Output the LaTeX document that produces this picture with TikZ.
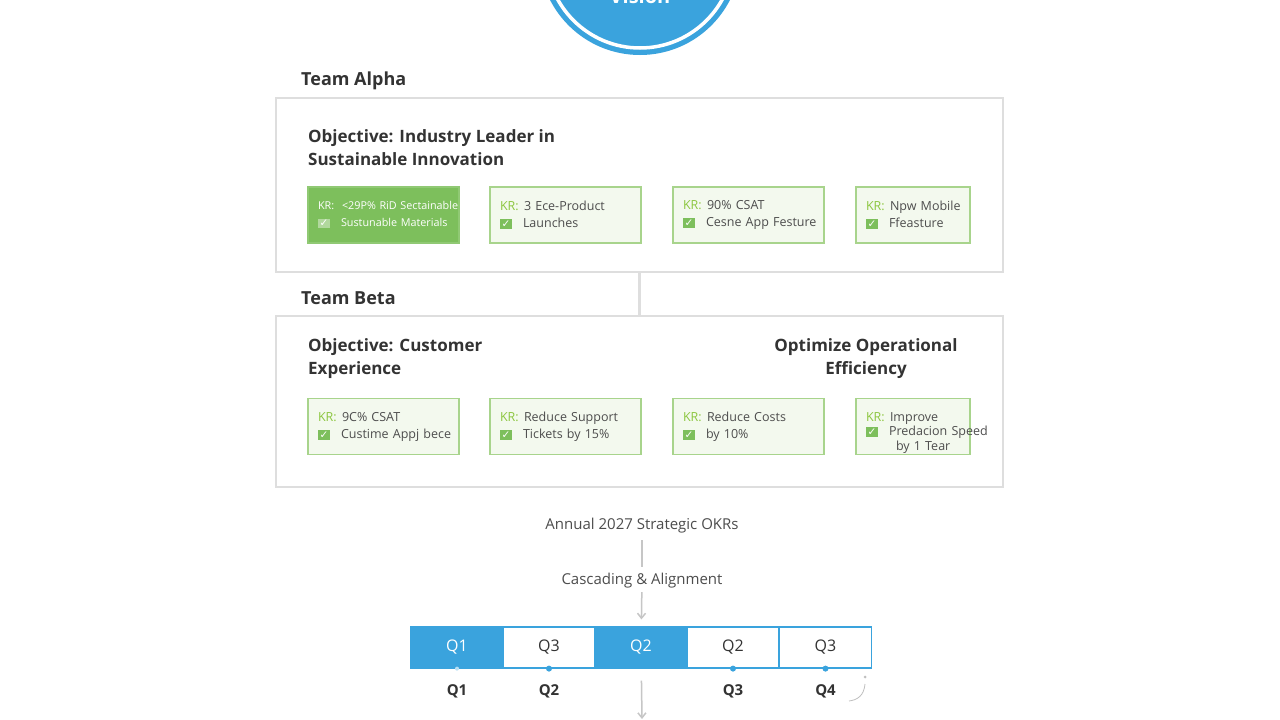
\documentclass[tikz,border=0pt]{standalone}
\usepackage{fontspec}
\setmainfont{Open Sans}
\newfontfamily\symfont{DejaVu Sans}
\usetikzlibrary{positioning,arrows.meta}

\definecolor{visblue}{HTML}{3AA3DD}
\definecolor{krgreen}{HTML}{8CC63F}
\definecolor{boxgreen}{HTML}{7DBF5C}
\definecolor{lightgreen}{HTML}{F3F9EE}
\definecolor{edgegreen}{HTML}{A8D48C}
\definecolor{panelgray}{HTML}{DEDEDE}
\definecolor{textgray}{HTML}{333333}
\definecolor{kgray}{HTML}{4D4D4D}
\colorlet{tagcol}{krgreen}
\colorlet{chkcol}{boxgreen}

\newcommand{\fs}[2]{\fontsize{#1}{#2}\selectfont}
\newcommand{\krtag}{\makebox[24pt][l]{\textcolor{tagcol}{KR:}}}
\newcommand{\krcheck}{\makebox[23pt][l]{\setlength{\fboxsep}{1.5pt}\colorbox{chkcol}{\textcolor{white}{\symfont\fs{10.5}{10}✓}}}}
\newcommand{\krtext}[2]{\krtag\mbox{#1}\\\krcheck\mbox{#2}}

\begin{document}
\begin{tikzpicture}[x=1pt,y=-1pt,
  panel/.style={draw=panelgray, line width=2pt, fill=white, minimum width=727pt, inner sep=0pt},
  team/.style={font=\bfseries\fs{18}{22}, text=textgray, anchor=west, inner sep=0pt},
  objective/.style={font=\bfseries\fs{17}{23}, text=textgray, align=left, anchor=west, inner sep=0pt},
  krbox/.style={draw=edgegreen, line width=1.2pt, fill=lightgreen, minimum height=56pt, text width=131pt,
    inner xsep=10pt, inner ysep=0pt, outer sep=0pt, align=left, font=\fs{12.5}{17}, text=kgray},
  krfull/.style={krbox, fill=boxgreen, draw=boxgreen!85!white, text=white, font=\fs{10.8}{17},
    execute at begin node={\colorlet{tagcol}{white}\colorlet{chkcol}{boxgreen!60!white}}},
  krnarrow/.style={krbox, text width=94pt},
  flow/.style={font=\fs{15}{18}, text=kgray},
  link/.style={draw=gray!45, line width=1.5pt},
  arrow/.style={-{Straight Barb[length=5pt,width=8pt]}},
  qcell/.style={draw=visblue, line width=1.2pt, minimum width=92pt, minimum height=41pt,
    font=\fs{16}{18}, text=textgray, inner sep=0pt},
  qfull/.style={qcell, fill=visblue, text=white},
  qlabel/.style={font=\bfseries\fs{15}{18}, text=textgray}]

\useasboundingbox (0,0) rectangle (1280,720);
\clip (0,0) rectangle (1280,720);
\fill [white] (0,0) rectangle (1280,720);

\node (Vision) [circle, fill=visblue, minimum size=202pt, inner sep=0pt] at (640,-46) {};
\draw [white, line width=3.5pt] (Vision.center) circle (94pt);
\node (VisionText) [font=\bfseries\fs{20}{20}, text=white, anchor=base] at (640,4) {Vision};

\node (TeamAlpha) [team] at (301,81) {Team Alpha};
\node (PanelAlpha) [panel, minimum height=174pt] at (639.5,185) {};
\node (TeamBeta) [team] at (301,298) {Team Beta};
\node (PanelBeta) [panel, minimum height=171pt] at (639.5,401.5) {};
\draw [link, draw=panelgray, line width=2.5pt] (PanelAlpha) -- (PanelBeta);

\node (ObjAlpha) [objective] at (308,147.5) {Objective: Industry Leader in\\Sustainable Innovation};
\node (ObjBeta) [objective] at (308,359) {Objective: Customer\\Experience};
\node (ObjOps) [objective, align=center, anchor=center] at (866,359) {Optimize Operational\\Efficiency};

\node (KRa1) [krfull] at (383.5,215) {\krtext{<29P\% RiD Sectainable}{Sustunable Materials}};
\node (KRa2) [krbox, right=31pt of KRa1] {\krtext{3 Ece-Product}{Launches}};
\node (KRa3) [krbox, right=32pt of KRa2] {\krtext{90\% CSAT}{Cesne App Festure}};
\node (KRa4) [krnarrow, right=32pt of KRa3] {\krtext{Npw Mobile}{Ffeasture}};

\node (KRb1) [krbox] at (383.5,426.5) {\krtext{9C\% CSAT}{Custime Appj bece}};
\node (KRb2) [krbox, right=31pt of KRb1] {\krtext{Reduce Support}{Tickets by 15\%}};
\node (KRb3) [krbox, right=32pt of KRb2] {\krtext{Reduce Costs}{by 10\%}};
\node (KRb4) [krnarrow, font=\fs{12.5}{14.5}] [right=32pt of KRb3]
  {\rule{0pt}{21pt}\krtag Improve\\\krcheck\mbox{Predacion Speed}\\\hspace*{30pt}by 1 Tear};

\node (Annual) [flow] at (642,526) {Annual 2027 Strategic OKRs};
\node (Cascade) [flow, node distance=55pt, below of=Annual] {Cascading \& Alignment};

\node (Q1) [qfull] at (457,647.5) {Q1};
\node (Q3a) [qcell, node distance=92pt, right of=Q1] {Q3};
\node (Q2a) [qfull, node distance=92pt, right of=Q3a] {Q2};
\node (Q2b) [qcell, node distance=92pt, right of=Q2a] {Q2};
\node (Q3b) [qcell, node distance=92.5pt, right of=Q2b] {Q3};

\node (LQ1) [qlabel, node distance=43.5pt, below of=Q1] {Q1};
\node (LQ2) [qlabel, node distance=43.5pt, below of=Q3a] {Q2};
\node (LQ3) [qlabel, node distance=43.5pt, below of=Q2b] {Q3};
\node (LQ4) [qlabel, node distance=43.5pt, below of=Q3b] {Q4};

\fill [visblue!35] (Q1.south) circle (2pt);
\fill [visblue] (Q3a.south) circle (3pt);
\fill [visblue] (Q2b.south) circle (3pt);
\fill [visblue] (Q3b.south) circle (3pt);

\coordinate (OutEnd) at (642,719);
\draw [link, shorten <=3pt, shorten >=3pt] (Annual) -- (Cascade);
\draw [link, arrow, shorten >=7pt] (Cascade) -- (Q2a);
\draw [link, arrow, shorten <=12pt] (Q2a) -- (OutEnd);

\fill [gray!50] (865,677) circle (1.5pt);
\draw [gray!50, line width=0.8pt] (865,684) .. controls (864,696) and (857,700) .. (849,701);

\end{tikzpicture}
\end{document}
